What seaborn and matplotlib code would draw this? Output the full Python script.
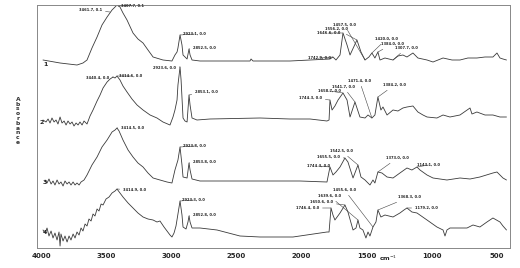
import numpy as np
import pandas as pd
import seaborn as sns
import matplotlib.pyplot as plt

# wavenumbers (cm-1) and absorbance (stacked, arbitrary offsets)
wn_1 = [3985, 3854, 3724, 3678, 3647, 3609, 3570, 3532, 3493, 3455, 3432, 3417, 3394, 3371, 3340,
        3294, 3256, 3217, 3179, 3140, 3064, 2995, 2972, 2956, 2949, 2933, 2918, 2910, 2879, 2864,
        2856, 2841, 2780, 2396, 2388, 2373, 2089, 1935, 1782, 1759, 1736, 1705, 1682, 1651, 1628,
        1575, 1544, 1513, 1483, 1460, 1437, 1414, 1398, 1360, 1298, 1260, 1222, 1191, 1145, 1107,
        1037, 991, 914, 845, 784, 723, 654, 592, 531, 500, 477, 454, 427]
abs_1 = [1.88, 1.85, 1.83, 1.85, 1.88, 2.00, 2.11, 2.23, 2.31, 2.38, 2.41, 2.43, 2.41, 2.35, 2.28,
         2.15, 2.09, 2.05, 1.98, 1.91, 1.88, 1.87, 1.93, 1.96, 2.00, 2.13, 2.03, 1.93, 1.89, 1.99,
         1.93, 1.88, 1.87, 1.87, 1.89, 1.87, 1.87, 1.88, 1.89, 1.91, 1.88, 1.93, 2.15, 2.03, 1.93,
         2.08, 1.96, 1.88, 1.91, 1.95, 1.90, 1.96, 1.88, 1.90, 1.88, 1.92, 1.93, 1.91, 1.95, 1.90,
         1.88, 1.86, 1.90, 1.88, 1.88, 1.90, 1.90, 1.91, 1.91, 1.95, 1.90, 1.89, 1.88]

wn_2 = [3985, 3962, 3946, 3931, 3916, 3900, 3885, 3870, 3854, 3839, 3823, 3808, 3793, 3777, 3762,
        3747, 3731, 3716, 3701, 3685, 3670, 3647, 3624, 3601, 3570, 3547, 3524, 3493, 3470, 3447,
        3432, 3417, 3394, 3371, 3340, 3302, 3263, 3217, 3163, 3110, 3064, 3010, 2987, 2972, 2956,
        2949, 2933, 2925, 2910, 2895, 2879, 2864, 2856, 2841, 2803, 2703, 2319, 2089, 1935, 1805,
        1789, 1782, 1766, 1744, 1720, 1682, 1651, 1628, 1590, 1552, 1513, 1490, 1460, 1437, 1414,
        1391, 1375, 1344, 1298, 1260, 1222, 1191, 1145, 1107, 1068, 1037, 961, 914, 861, 784,
        707, 692, 654, 592, 531, 477, 427]
abs_2 = [1.28, 1.26, 1.29, 1.25, 1.30, 1.26, 1.28, 1.24, 1.31, 1.25, 1.27, 1.23, 1.27, 1.24, 1.26,
         1.22, 1.25, 1.23, 1.26, 1.23, 1.27, 1.24, 1.32, 1.38, 1.47, 1.53, 1.60, 1.66, 1.69, 1.71,
         1.70, 1.72, 1.68, 1.62, 1.56, 1.49, 1.43, 1.38, 1.33, 1.30, 1.26, 1.23, 1.31, 1.38, 1.48,
         1.63, 1.81, 1.68, 1.30, 1.27, 1.26, 1.53, 1.43, 1.30, 1.28, 1.29, 1.30, 1.29, 1.29, 1.27,
         1.28, 1.48, 1.38, 1.42, 1.48, 1.55, 1.48, 1.31, 1.46, 1.31, 1.30, 1.33, 1.30, 1.33, 1.51,
         1.38, 1.41, 1.33, 1.38, 1.37, 1.40, 1.41, 1.42, 1.36, 1.33, 1.31, 1.30, 1.33, 1.31, 1.33,
         1.40, 1.34, 1.36, 1.33, 1.33, 1.31, 1.31]

wn_3 = [3969, 3954, 3939, 3923, 3908, 3893, 3877, 3862, 3847, 3831, 3816, 3800, 3785, 3770, 3754,
        3739, 3724, 3708, 3693, 3670, 3647, 3609, 3570, 3532, 3493, 3455, 3432, 3417, 3401, 3371,
        3332, 3294, 3256, 3217, 3179, 3140, 3087, 3033, 2995, 2972, 2949, 2933, 2918, 2910, 2879,
        2864, 2856, 2841, 2780, 2319, 2012, 1805, 1782, 1759, 1736, 1705, 1667, 1644, 1605, 1567,
        1544, 1513, 1498, 1475, 1452, 1437, 1414, 1383, 1344, 1298, 1245, 1191, 1153, 1114, 1091,
        1037, 991, 884, 784, 707, 631, 531, 500, 454, 427]
abs_3 = [0.68, 0.65, 0.69, 0.64, 0.67, 0.63, 0.68, 0.64, 0.66, 0.62, 0.67, 0.64, 0.66, 0.63, 0.66,
         0.63, 0.65, 0.63, 0.66, 0.68, 0.73, 0.83, 0.91, 1.01, 1.08, 1.16, 1.18, 1.20, 1.17, 1.08,
         0.98, 0.91, 0.85, 0.81, 0.75, 0.70, 0.68, 0.66, 0.65, 0.78, 0.88, 1.01, 0.83, 0.71, 0.70,
         0.85, 0.78, 0.69, 0.67, 0.67, 0.67, 0.66, 0.81, 0.73, 0.76, 0.81, 0.90, 0.86, 0.70, 0.83,
         0.71, 0.68, 0.66, 0.63, 0.68, 0.65, 0.76, 0.75, 0.71, 0.70, 0.75, 0.80, 0.78, 0.81, 0.78,
         0.73, 0.70, 0.68, 0.70, 0.69, 0.71, 0.75, 0.76, 0.70, 0.68]

wn_4 = [3985, 3969, 3954, 3939, 3923, 3908, 3893, 3877, 3862, 3854, 3847, 3831, 3816, 3800, 3785,
        3770, 3754, 3739, 3724, 3708, 3693, 3678, 3662, 3647, 3632, 3616, 3601, 3586, 3570, 3555,
        3539, 3524, 3501, 3478, 3455, 3432, 3417, 3394, 3371, 3332, 3294, 3256, 3217, 3179, 3140,
        3110, 3087, 3056, 3033, 3010, 2995, 2979, 2964, 2949, 2933, 2918, 2910, 2887, 2872, 2864,
        2856, 2841, 2780, 2649, 2473, 2319, 2066, 1805, 1789, 1774, 1759, 1744, 1705, 1667, 1644,
        1605, 1582, 1567, 1552, 1529, 1506, 1490, 1475, 1452, 1429, 1414, 1391, 1360, 1298, 1245,
        1214, 1191, 1153, 1114, 1037, 961, 914, 899, 884, 861, 730, 684, 631, 577, 531, 477, 454, 427]
abs_4 = [0.18, 0.15, 0.20, 0.12, 0.17, 0.10, 0.15, 0.08, 0.16, 0.02, 0.14, 0.07, 0.12, 0.06, 0.12,
         0.08, 0.14, 0.10, 0.16, 0.13, 0.20, 0.17, 0.24, 0.22, 0.29, 0.27, 0.34, 0.32, 0.39, 0.37,
         0.44, 0.43, 0.49, 0.51, 0.55, 0.57, 0.59, 0.55, 0.51, 0.45, 0.40, 0.35, 0.31, 0.29, 0.28,
         0.26, 0.27, 0.21, 0.17, 0.13, 0.11, 0.15, 0.22, 0.34, 0.47, 0.33, 0.21, 0.19, 0.26, 0.32,
         0.26, 0.20, 0.20, 0.18, 0.12, 0.11, 0.11, 0.16, 0.16, 0.40, 0.33, 0.28, 0.35, 0.43, 0.36,
         0.18, 0.20, 0.28, 0.20, 0.18, 0.10, 0.16, 0.12, 0.21, 0.26, 0.38, 0.31, 0.33, 0.31, 0.35,
         0.38, 0.40, 0.36, 0.35, 0.28, 0.21, 0.18, 0.12, 0.18, 0.20, 0.20, 0.23, 0.21, 0.26, 0.30, 0.26, 0.22, 0.18]

# peak labels: (peak wn, peak abs, text, text wn, text abs)
peaks_1 = [(3470, 2.36, "3461.7, 0.1", 3708, 2.38), (3409, 2.42, "3407.7, 0.1", 3386, 2.425),
           (2933, 2.13, "2923.1, 0.0", 2910, 2.14), (2864, 1.99, "2852.5, 0.0", 2833, 2.00),
           (1759, 1.91, "1742.9, 0.0", 1951, 1.90), (1682, 2.15, "1646.6, 0.0", 1882, 2.15),
           (1575, 2.08, "1556.2, 0.0", 1820, 2.19), (1513, 1.88, "1457.5, 0.0", 1759, 2.23),
           (1460, 1.95, "1420.0, 0.0", 1437, 2.09), (1414, 1.96, "1384.0, 0.0", 1391, 2.04),
           (1298, 1.88, "1307.7, 0.0", 1283, 2.00)]
peaks_2 = [(3447, 1.71, "3440.4, 0.0", 3655, 1.70), (3417, 1.72, "3414.6, 0.0", 3401, 1.72),
           (2933, 1.81, "2923.6, 0.0", 3140, 1.80), (2864, 1.53, "2853.1, 0.0", 2818, 1.56),
           (1782, 1.48, "1744.3, 0.0", 2020, 1.50), (1682, 1.55, "1658.7, 0.0", 1874, 1.57),
           (1590, 1.46, "1541.7, 0.0", 1767, 1.61), (1460, 1.30, "1471.4, 0.0", 1644, 1.67),
           (1414, 1.51, "1384.2, 0.0", 1375, 1.63)]
peaks_3 = [(3417, 1.20, "3414.5, 0.0", 3386, 1.20), (2933, 1.01, "2923.8, 0.0", 2910, 1.02),
           (2864, 0.85, "2853.8, 0.0", 2833, 0.86), (1782, 0.81, "1744.3, 0.0", 1958, 0.82),
           (1667, 0.90, "1655.5, 0.0", 1882, 0.91), (1567, 0.83, "1542.5, 0.0", 1782, 0.97),
           (1414, 0.76, "1373.0, 0.0", 1352, 0.90), (1114, 0.81, "1143.1, 0.0", 1114, 0.83)]
peaks_4 = [(3417, 0.59, "3414.9, 0.0", 3371, 0.58), (2933, 0.47, "2923.3, 0.0", 2918, 0.48),
           (2864, 0.32, "2852.8, 0.0", 2833, 0.33), (1774, 0.40, "1746.4, 0.0", 2043, 0.40),
           (1667, 0.43, "1650.6, 0.0", 1935, 0.46), (1567, 0.28, "1639.6, 0.0", 1874, 0.52),
           (1452, 0.21, "1455.6, 0.0", 1759, 0.58), (1414, 0.38, "1368.3, 0.0", 1260, 0.51),
           (1191, 0.40, "1179.2, 0.0", 1130, 0.40)]

trace_names = ["1", "2", "3", "4"]
trace_label_pos = [(3985, 1.84), (4008, 1.26), (3992, 0.66), (3985, 0.15)]
xticks = [4000, 3500, 3000, 2500, 2000, 1500, 1000, 500]

sns.set_style("white")
plt.rcParams['font.family'] = ['DejaVu Sans']

fig = plt.figure(figsize=(5.2, 2.68), dpi=100)
ax = fig.add_axes([37 / 520, 20 / 268, 473 / 520, 243 / 268])

line_color = "#3a3a3a"
for wn, ab in [(wn_1, abs_1), (wn_2, abs_2), (wn_3, abs_3), (wn_4, abs_4)]:
    df = pd.DataFrame({"wn": wn, "abs": ab})
    sns.lineplot(data=df, x="wn", y="abs", sort=False, estimator=None,
                 color=line_color, lw=0.6, ax=ax)

for peaks in [peaks_1, peaks_2, peaks_3, peaks_4]:
    for px, py, txt, tx, ty in peaks:
        ax.annotate(txt, xy=(px, py), xytext=(tx, ty), ha="left", va="center",
                    fontsize=2.6, fontweight="bold", color="#222",
                    annotation_clip=False,
                    arrowprops=dict(arrowstyle="-", lw=0.4, color="#444",
                                    shrinkA=0, shrinkB=0))

for name, (tx, ty) in zip(trace_names, trace_label_pos):
    ax.text(tx, ty, name, fontsize=4.5, fontweight="bold", ha="left", va="center", color="#222")

ax.set_xlim(4031, 400)
ax.set_ylim(0, 2.43)
ax.set_xticks(xticks)
ax.set_xticklabels([str(t) for t in xticks], fontsize=5, fontweight="bold")
ax.set_yticks([])
ax.set_xlabel("")
ax.set_ylabel("")
ax.tick_params(axis="x", length=2, width=0.5, pad=1.5, color="#666")
for s in ax.spines.values():
    s.set_color("#888")
    s.set_linewidth(0.7)

fig.text(18 / 520, 1 - 121 / 268, "A\nb\ns\no\nr\nb\na\nn\nc\ne", fontsize=4.3,
         ha="center", va="center", linespacing=0.95, fontweight="bold", color="#333")
fig.text(388 / 520, 1 - 258 / 268, "cm$^{-1}$", fontsize=4.5, ha="center", va="center",
         fontweight="bold")

fig.savefig("out.png", dpi=100)
